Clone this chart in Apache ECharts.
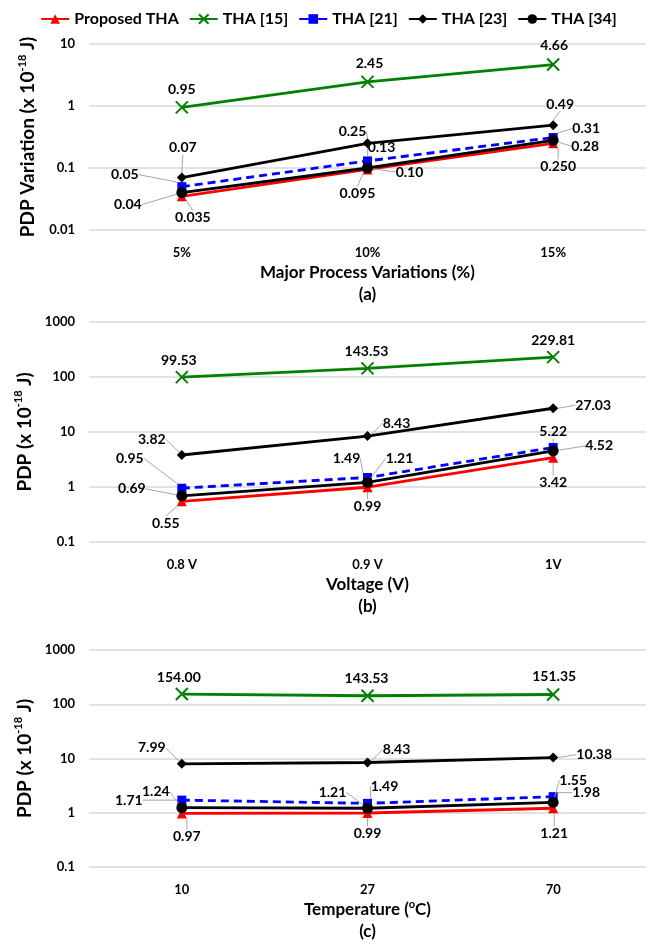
<!DOCTYPE html>
<html>
<head>
<meta charset="utf-8">
<script src="https://cdn.jsdelivr.net/npm/echarts@6/dist/echarts.min.js"></script>
<style>
  html, body { margin: 0; padding: 0; background: #fff; }
  #chart { width: 657px; height: 944px; }
</style>
</head>
<body>
<div id="chart"></div>
<script>
// series names (legend)
var names = ['Proposed THA', 'THA [15]', 'THA [21]', 'THA [23]', 'THA [34]'];

// (a) process variations
var aCats = ['5%', '10%', '15%'];
var aProposed = ['0.035', '0.095', '0.250'];
var a15 = ['0.95', '2.45', '4.66'];
var a21 = ['0.05', '0.13', '0.31'];
var a23 = ['0.07', '0.25', '0.49'];
var a34 = ['0.04', '0.10', '0.28'];

// (b) voltage
var bCats = ['0.8 V', '0.9 V', '1V'];
var bProposed = ['0.55', '0.99', '3.42'];
var b15 = ['99.53', '143.53', '229.81'];
var b21 = ['0.95', '1.49', '5.22'];
var b23 = ['3.82', '8.43', '27.03'];
var b34 = ['0.69', '1.21', '4.52'];

// (c) temperature
var cCats = ['10', '27', '70'];
var cProposed = ['0.97', '0.99', '1.21'];
var c15 = ['154.00', '143.53', '151.35'];
var c21 = ['1.71', '1.49', '1.98'];
var c23 = ['7.99', '8.43', '10.38'];
var c34 = ['1.24', '1.21', '1.55'];

// label offsets from the point (label centre), per panel / series
var offs = [
  [[[11,21],[-10,24],[5,23]], [[0,-18],[2,-18],[1,-19]], [[-57,-12],[14,-13],[33,-9]], [[1,-30],[-15,-12],[7,-21]], [[-54,12],[42,4],[32,6]]],
  [[[-16,22],[0,19],[0,25]], [[-3,-17],[-1,-17],[0,-17]], [[-52,-30],[-21,-19],[0,-16]], [[-30,-16],[29,-13],[40,-3]], [[-50,-7],[32,-24],[46,-5]]],
  [[[5,23],[0,20],[1,25]], [[-3,-17],[-1,-17],[1,-18]], [[-53,0],[17,-17],[33,-4]], [[-30,-16],[29,-13],[41,-3]], [[-26,-16],[-35,-16],[20,-22]]]
];

var panels = [
  { cats: aCats, data: [aProposed, a15, a21, a23, a34], min: 0.01, max: 10,
    xName: '{t|Major Process Variations (%)}\n{t|(a)}', yName: '{t|PDP Variation (x 10}{sup|-18}{t| J)}' },
  { cats: bCats, data: [bProposed, b15, b21, b23, b34], min: 0.1, max: 1000,
    xName: '{t|Voltage (V)}\n{t|(b)}', yName: '{t|PDP (x 10}{sup|-18}{t| J)}' },
  { cats: cCats, data: [cProposed, c15, c21, c23, c34], min: 0.1, max: 1000,
    xName: '{t|Temperature (}{sup|o}{t|C)}\n{t|(c)}', yName: '{t|PDP (x 10}{sup|-18}{t| J)}' }
];

var looks = [
  { color: '#ff0000', symbol: 'triangle', size: 10, type: 'solid' },
  { color: '#008000', symbol: 'path://M0,0L10,10M10,0L0,10', size: 12, type: 'solid' },
  { color: '#0000ff', symbol: 'rect', size: 9, type: [8, 5] },
  { color: '#000000', symbol: 'diamond', size: 10, type: 'solid' },
  { color: '#000000', symbol: 'circle', size: 11, type: 'solid' }
];

var FONT = 'Lato';
var grids = [
  { left: 89, right: 11, top: 44, height: 186 },
  { left: 89, right: 11, top: 322, height: 220 },
  { left: 89, right: 11, top: 650, height: 220 }
];

function nameRich(size) {
  return {
    t: { fontSize: size, fontWeight: 'bold', fontFamily: FONT, color: '#000', lineHeight: 22 },
    sup: { fontSize: 11, fontWeight: 'bold', fontFamily: FONT, color: '#000', verticalAlign: 'top', padding: [0, 0, 8, 0] }
  };
}

var labelRich = { b: { fontFamily: FONT, fontWeight: 'bold', fontSize: 14, color: '#000' } };

function tickText(v) {
  return String(v);
}

var xAxes = [], yAxes = [], series = [];
panels.forEach(function (p, pi) {
  xAxes.push({
    gridIndex: pi, type: 'category', data: p.cats, boundaryGap: true,
    axisLine: { show: false }, axisTick: { show: false },
    axisLabel: { fontFamily: FONT, fontWeight: 'bold', fontSize: 13, color: '#000', margin: 16 },
    name: p.xName, nameLocation: 'middle', nameGap: 32,
    nameTextStyle: { fontFamily: FONT, fontWeight: 'bold', fontSize: 17, color: '#000', lineHeight: 22, rich: nameRich(17) }
  });
  yAxes.push({
    gridIndex: pi, type: 'log', logBase: 10, min: p.min, max: p.max,
    axisLine: { show: false }, axisTick: { show: false },
    splitLine: { lineStyle: { color: '#d9d9d9', width: 1.5 } },
    axisLabel: { fontFamily: FONT, fontWeight: 'bold', fontSize: 13, color: '#000', margin: 14, formatter: tickText },
    name: p.yName, nameLocation: 'middle', nameGap: 50,
    nameTextStyle: { fontFamily: FONT, fontWeight: 'bold', fontSize: 19, color: '#000', rich: nameRich(19) }
  });
  p.data.forEach(function (arr, si) {
    var lk = looks[si];
    series.push({
      name: names[si], type: 'line', xAxisIndex: pi, yAxisIndex: pi,
      data: arr.map(Number),
      symbol: lk.symbol, symbolSize: lk.size,
      z: 2 + si,
      lineStyle: { color: lk.color, width: 2.8, type: lk.type },
      itemStyle: { color: lk.color, borderColor: lk.color, borderWidth: si === 1 ? 2 : 0 },
      label: {
        show: true, position: 'inside',
        fontFamily: FONT, fontWeight: 'bold', fontSize: 14, color: '#000',
        rich: labelRich,
        formatter: function (q) { return '{b|' + arr[q.dataIndex] + '}'; }
      },
      labelLine: { show: si !== 1, lineStyle: { color: '#a6a6a6', width: 1 } },
      labelLayout: function (q) {
        var o = offs[pi][si][q.dataIndex];
        return { dx: o[0], dy: o[1] };
      },
      animation: false
    });
  });
});

var chart = echarts.init(document.getElementById('chart'));
chart.setOption({
  animation: false,
  legend: {
    data: names, top: 6, left: 'center', itemWidth: 28, itemHeight: 12, itemGap: 10,
    lineStyle: { type: 'solid' },
    textStyle: { fontFamily: FONT, fontWeight: 'bold', fontSize: 16, color: '#000' }
  },
  grid: grids,
  xAxis: xAxes,
  yAxis: yAxes,
  series: series
});
</script>
</body>
</html>
